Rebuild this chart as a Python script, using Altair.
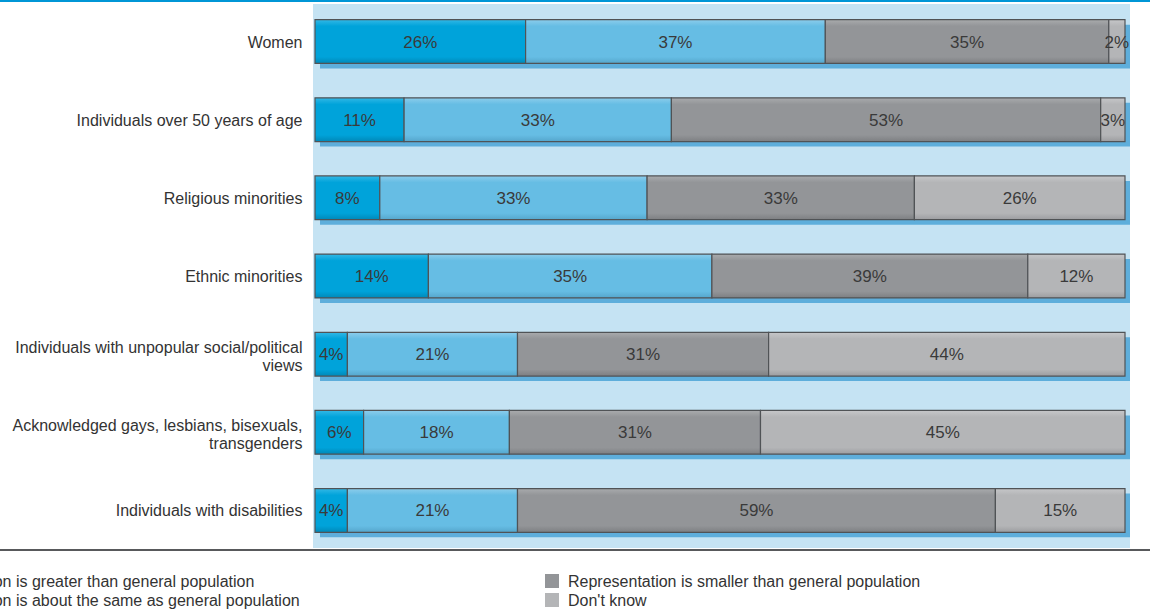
import altair as alt
import pandas as pd

groups = [
    "Women",
    "Individuals over 50 years of age",
    "Religious minorities",
    "Ethnic minorities",
    "Individuals with unpopular social/political|views",
    "Acknowledged gays, lesbians, bisexuals,|transgenders",
    "Individuals with disabilities",
]
categories = [
    "Representation is greater than general population",
    "Representation is about the same as general population",
    "Representation is smaller than general population",
    "Don't know",
]
greater = [26, 11, 8, 14, 4, 6, 4]
same = [37, 33, 33, 35, 21, 18, 21]
smaller = [35, 53, 33, 39, 31, 31, 59]
dont_know = [2, 3, 26, 12, 44, 45, 15]

colors = ["#00a3da", "#66bde4", "#939598", "#b4b5b7"]
lighter = ["#33b8e6", "#8ccdec", "#a9abad", "#c6c7c9"]
darker = ["#0088b8", "#55a6cc", "#7d7f82", "#9c9da0"]

series = [greater, same, smaller, dont_know]
rows = []
for i, g in enumerate(groups):
    start = 0
    for k, cat in enumerate(categories):
        v = series[k][i]
        end = start + v if k < len(categories) - 1 else 100
        rows.append({"group": g, "category": cat, "start": start, "end": end,
                     "mid": (start + end) / 2, "label": f"{v}%"})
        start = end
df = pd.DataFrame(rows)
shadow_df = pd.DataFrame({"group": groups, "start": [0] * len(groups), "end": [100] * len(groups)})

FONT = "Liberation Sans"
W, H = 817, 544
PAD_L, PAD_T = 313, 4

xscale = alt.Scale(domain=[0, 100], range=[2, 812])
yscale = alt.Scale(domain=groups, paddingInner=0.44, paddingOuter=0.2)

y_axis = alt.Axis(title=None, ticks=False, domain=False, labelPadding=11,
                  labelFont=FONT, labelFontSize=16, labelColor="#333333",
                  labelLimit=400, labelLineHeight=18,
                  labelOffset={"expr": "indexof(datum.label, '|') >= 0 ? -6 : 1"},
                  labelExpr="split(datum.label, '|')")

shadow = alt.Chart(shadow_df).mark_bar(color="#5eaedb", xOffset=5, x2Offset=5, yOffset=5, y2Offset=5).encode(
    x=alt.X("start:Q", scale=xscale, axis=None),
    x2="end:Q",
    y=alt.Y("group:N", scale=yscale, axis=y_axis, sort=groups),
)

layers = [shadow]
for k, cat in enumerate(categories):
    grad = alt.Gradient(
        gradient="linear", x1=0, x2=0, y1=0, y2=1,
        stops=[
            alt.GradientStop(color=lighter[k], offset=0),
            alt.GradientStop(color=colors[k], offset=0.15),
            alt.GradientStop(color=colors[k], offset=0.85),
            alt.GradientStop(color=darker[k], offset=1),
        ],
    )
    layers.append(
        alt.Chart(df).transform_filter(alt.datum.category == cat)
        .mark_bar(color=grad, stroke="#505356", strokeWidth=1.2)
        .encode(
            x=alt.X("start:Q", scale=xscale, axis=None),
            x2="end:Q",
            y=alt.Y("group:N", scale=yscale, sort=groups),
        )
    )

labels = alt.Chart(df).mark_text(font=FONT, fontSize=17, color="#3a3a3a", baseline="middle", dy=1).encode(
    x=alt.X("mid:Q", scale=xscale, axis=None),
    y=alt.Y("group:N", scale=yscale, sort=groups),
    text="label:N",
)
layers.append(labels)

# top blue line and bottom axis line
top_line = alt.Chart(pd.DataFrame({"a": [0]})).mark_rule(color="#0096d6", strokeWidth=2).encode(
    x=alt.value(-PAD_L), x2=alt.value(1150 - PAD_L), y=alt.value(-3))
bottom_line = alt.Chart(pd.DataFrame({"a": [0]})).mark_rule(color="#58595b", strokeWidth=2).encode(
    x=alt.value(-PAD_L), x2=alt.value(1150 - PAD_L), y=alt.value(H + 2))
layers += [top_line, bottom_line]

# legend (two columns, left column partly outside the page)
col_x = [-426, 239]
row_y = [577, 596]
for k, cat in enumerate(categories):
    cx = col_x[k // 2]
    cy = row_y[k % 2]
    one = pd.DataFrame({"label": [cat]})
    layers.append(alt.Chart(one).mark_square(size=196, color=colors[k], opacity=1).encode(
        x=alt.value(cx), y=alt.value(cy)))
    layers.append(alt.Chart(one).mark_text(font=FONT, fontSize=16, color="#333333",
                                           align="left", baseline="middle").encode(
        x=alt.value(cx + 16), y=alt.value(cy + 1), text="label:N"))

chart = alt.layer(*layers).properties(
    width=W, height=H,
    background="white",
    autosize=alt.AutoSizeParams(type="none"),
    padding={"left": PAD_L, "top": PAD_T, "right": 1150 - PAD_L - W, "bottom": 612 - PAD_T - H},
).configure_view(strokeWidth=0, fill="#c5e3f3")

chart.save("out.html", embed_options={"renderer": "svg", "actions": False})
